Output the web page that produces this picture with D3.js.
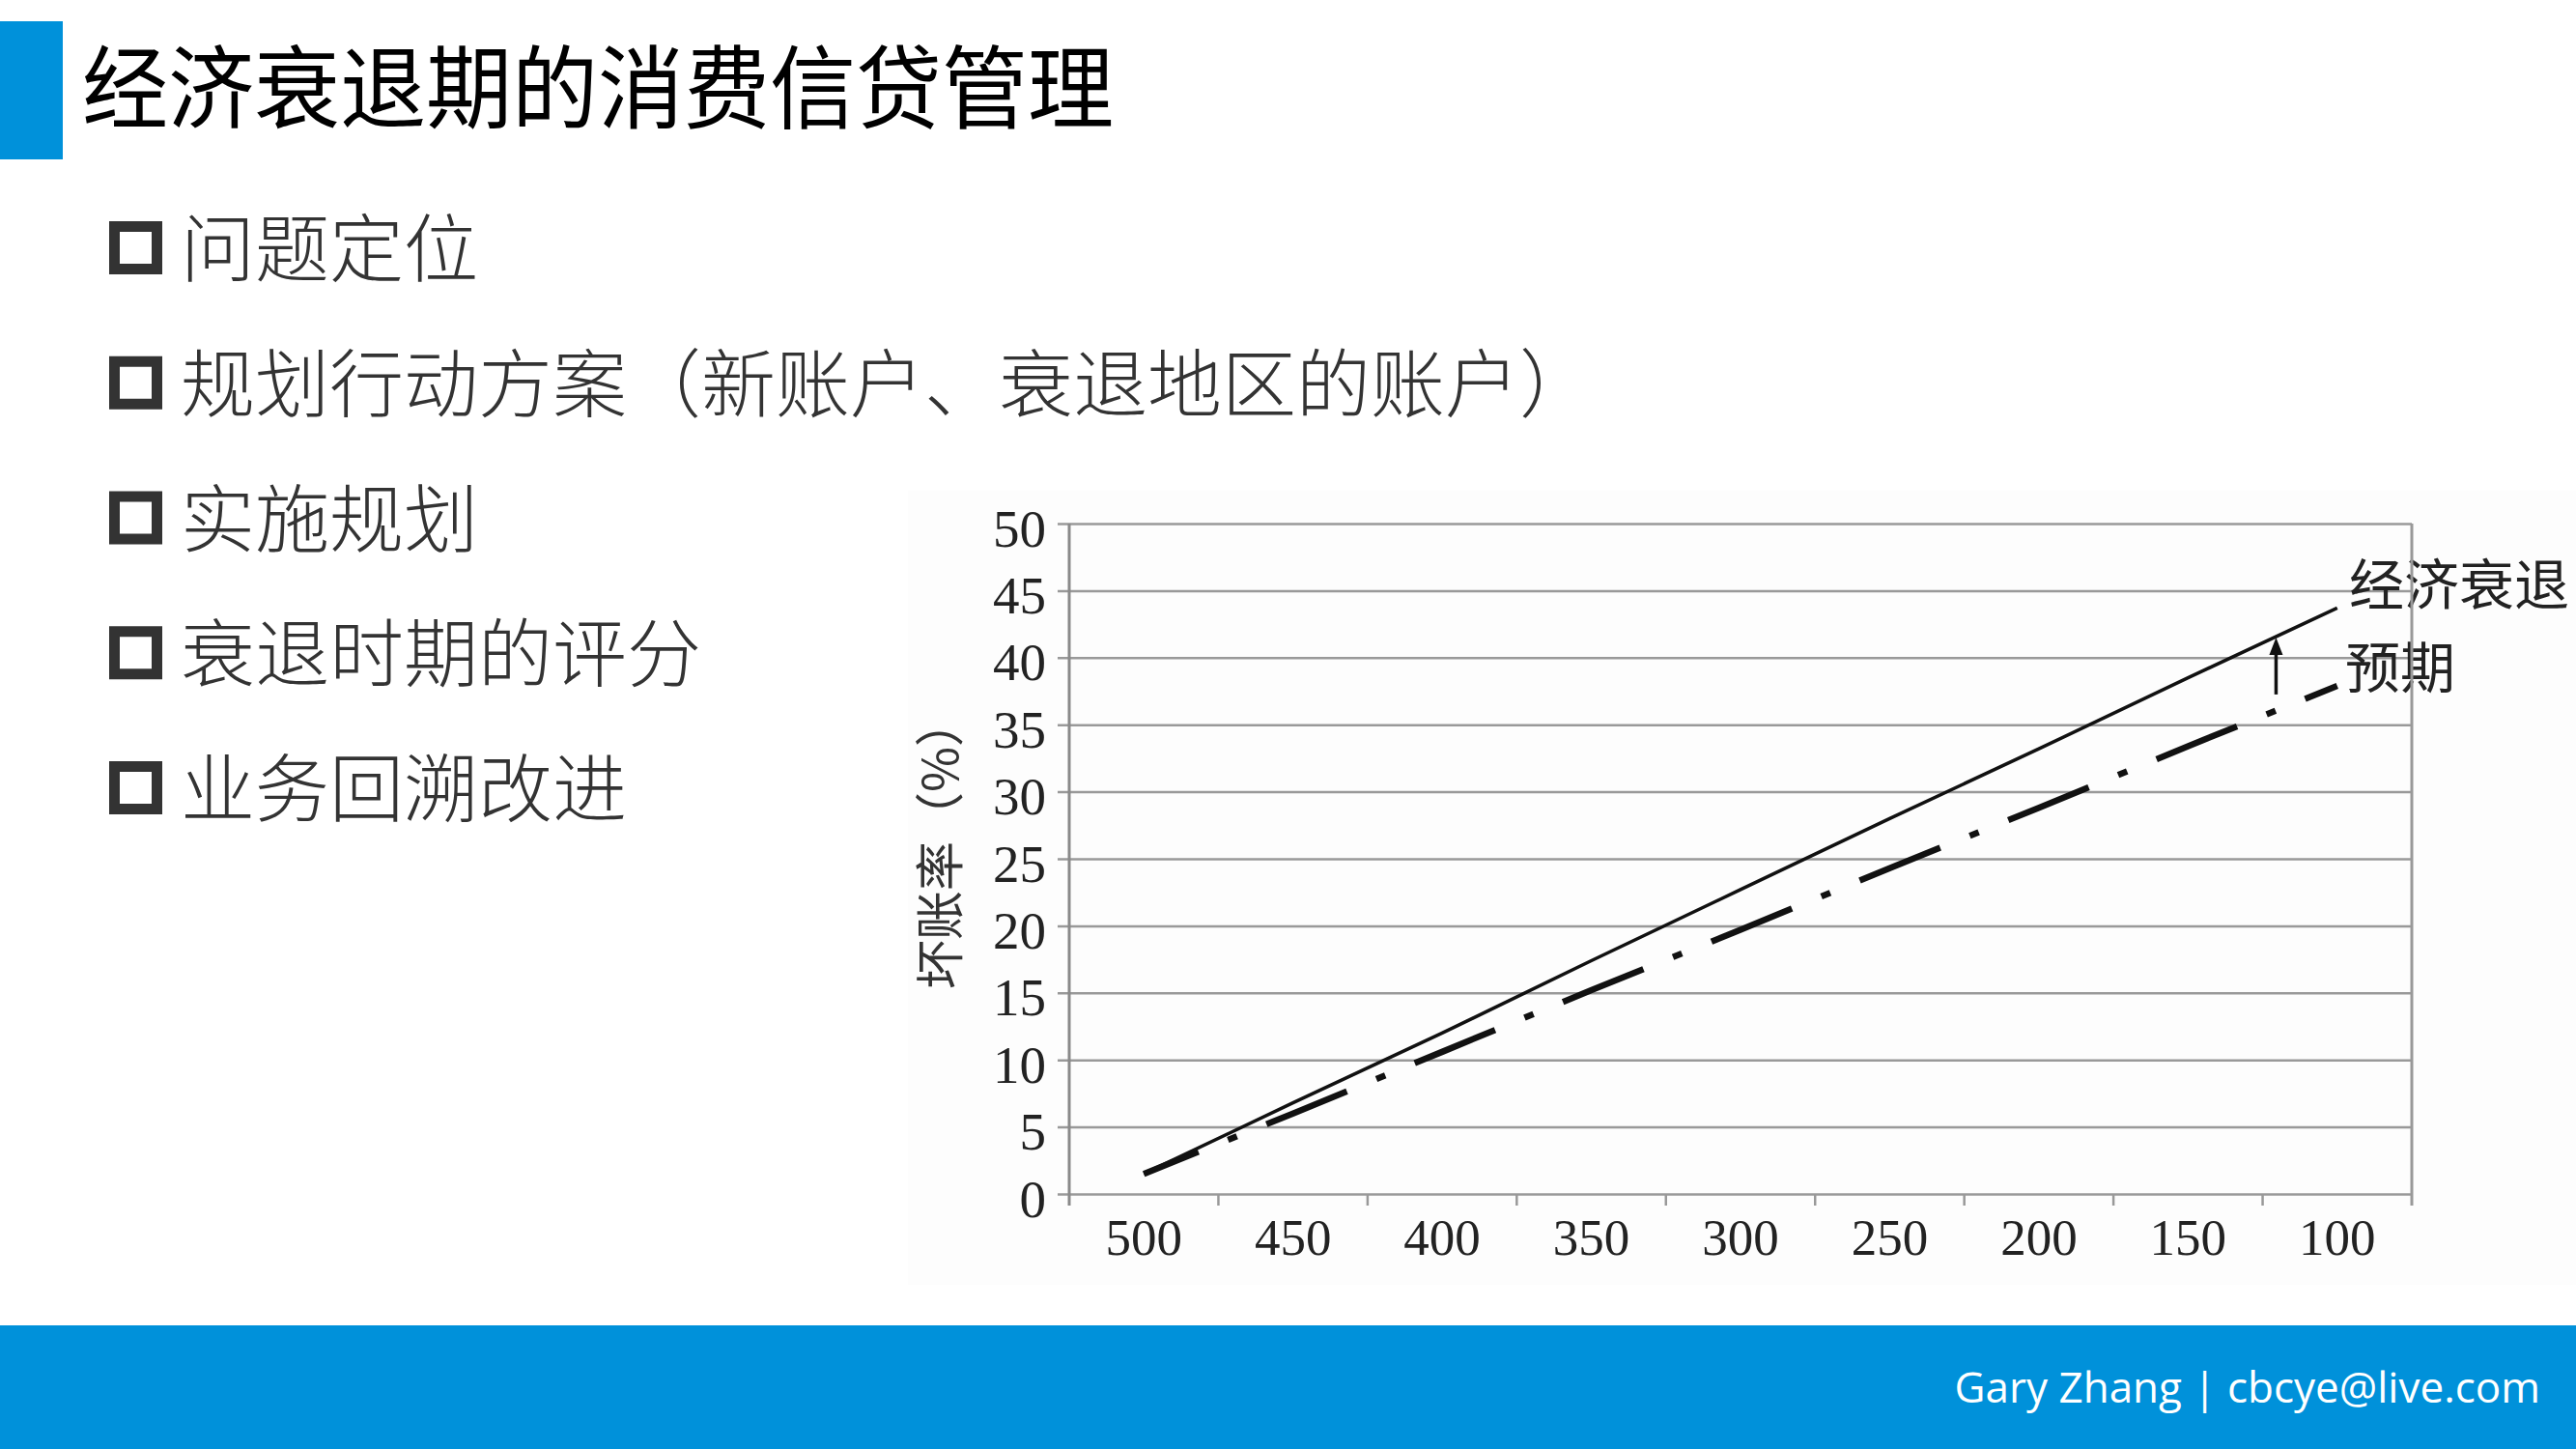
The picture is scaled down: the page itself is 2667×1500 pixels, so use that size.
<!DOCTYPE html>
<html>
<head>
<meta charset="utf-8">
<script src="https://cdn.jsdelivr.net/npm/d3@7"></script>
<style>
	html, body { margin: 0; padding: 0; background: #fff; }
	svg { display: block; }
</style>
</head>
<body>
<svg id="slide" width="2667" height="1500"></svg>
<script>
// chart values
var scoreLabels = ["500", "450", "400", "350", "300", "250", "200", "150", "100"];
var recessionRate = [1.5, 6.8, 12.0, 17.4, 22.7, 28.0, 33.2, 38.5, 43.7];
var expectedRate = [1.5, 6.0, 10.6, 15.2, 19.7, 24.3, 28.8, 33.4, 37.9];
var yTicks = [0, 5, 10, 15, 20, 25, 30, 35, 40, 45, 50];
var seriesNames = ["经济衰退", "预期"];
var bulletItems = ["问题定位", "规划行动方案（新账户、衰退地区的账户）", "实施规划", "衰退时期的评分", "业务回溯改进"];

(function (window, document) {
	var svg = d3.select("#slide");
	var blue = "#0091da";
	var cjk = "'Noto Sans CJK SC', 'Noto Sans', sans-serif";
	var serif = "'Liberation Serif', 'DejaVu Serif', serif";

	// header
	svg.append("rect").attr("x", 0).attr("y", 22).attr("width", 65).attr("height", 143).attr("fill", blue);
	svg.append("text")
		.attr("x", 85).attr("y", 126)
		.attr("textLength", 1068).attr("lengthAdjust", "spacingAndGlyphs")
		.style("font-family", cjk).style("font-size", "94px").attr("fill", "#000")
		.text("经济衰退期的消费信贷管理");

	// bullets
	var rowY = d3.scaleLinear().domain([0, 4]).range([257, 816]);
	var rows = svg.append("g").selectAll("g").data(bulletItems).enter().append("g")
		.attr("transform", function (d, i) { return "translate(0," + rowY(i) + ")"; });
	rows.append("rect")
		.attr("x", 118.5).attr("y", -22.5).attr("width", 44).attr("height", 44)
		.attr("fill", "none").attr("stroke", "#333").attr("stroke-width", 11);
	rows.append("text")
		.attr("x", 187).attr("y", 29)
		.style("font-family", cjk).style("font-size", "77px").style("font-weight", 300).attr("fill", "#333")
		.text(function (d) { return d; });

	// footer
	svg.append("rect").attr("x", 0).attr("y", 1372).attr("width", 2667).attr("height", 128).attr("fill", blue);
	svg.append("text")
		.attr("x", 2630).attr("y", 1452).attr("text-anchor", "end")
		.style("font-family", "'Open Sans', sans-serif").style("font-size", "44px").attr("fill", "#fff")
		.text("Gary Zhang | cbcye@live.com");

	// chart picture background
	svg.append("rect").attr("x", 940).attr("y", 508).attr("width", 1727).attr("height", 822).attr("fill", "#fdfdfd");

	var left = 1107, right = 2497, top = 542, bottom = 1236;
	var x = d3.scaleBand().domain(scoreLabels).range([left, right]).padding(0);
	var y = d3.scaleLinear().domain([0, 50]).range([bottom, top]);
	var cx = function (i) { return x(scoreLabels[i]) + x.bandwidth() / 2; };

	// gridlines
	var grid = svg.append("g")
		.attr("transform", "translate(" + (left - 12) + ",0)")
		.call(d3.axisLeft(y).tickValues(yTicks).tickSize(-(right - left + 12)).tickFormat(""));
	grid.select(".domain").remove();
	grid.selectAll("line").attr("stroke", "#999").attr("stroke-width", 2.5);

	// y labels
	var yAxis = svg.append("g")
		.attr("transform", "translate(" + left + ",0)")
		.call(d3.axisLeft(y).tickValues(yTicks).tickSize(0).tickPadding(24));
	yAxis.select(".domain").remove();
	yAxis.selectAll("text")
		.attr("dy", "0.42em")
		.style("font-family", serif).style("font-size", "55px").attr("fill", "#222");

	// x labels
	var xAxis = svg.append("g")
		.attr("transform", "translate(0," + bottom + ")")
		.call(d3.axisBottom(x).tickSize(0).tickPadding(25));
	xAxis.select(".domain").remove();
	xAxis.selectAll("text")
		.style("font-family", serif).style("font-size", "53px").attr("fill", "#222");

	// band boundary ticks
	svg.append("g").selectAll("line").data(scoreLabels.slice(1)).enter().append("line")
		.attr("x1", function (d) { return x(d); }).attr("x2", function (d) { return x(d); })
		.attr("y1", bottom).attr("y2", bottom + 12)
		.attr("stroke", "#999").attr("stroke-width", 2.5);

	// axis line
	svg.append("line")
		.attr("x1", left).attr("x2", left).attr("y1", top).attr("y2", bottom + 12)
		.attr("stroke", "#8a8a8a").attr("stroke-width", 3);

	// y title
	svg.append("text")
		.attr("transform", "translate(970,873) rotate(-90)")
		.attr("text-anchor", "middle").attr("dominant-baseline", "central")
		.style("font-family", cjk).style("font-size", "51px").attr("fill", "#333")
		.text("坏账率（%）");

	var line = d3.line()
		.x(function (d, i) { return cx(i); })
		.y(function (d) { return y(d); });

	svg.append("path").datum(expectedRate)
		.attr("d", line).attr("fill", "none")
		.attr("stroke", "#111").attr("stroke-width", 6.5)
		.attr("stroke-dasharray", "90 33 10 33")
		.attr("stroke-dashoffset", 29);

	svg.append("path").datum(recessionRate)
		.attr("d", line).attr("fill", "none")
		.attr("stroke", "#111").attr("stroke-width", 3.5);

	// arrow from expected up to recession
	var at = 0.59, k = scoreLabels.length - 2;
	var ax = cx(k) + at * x.bandwidth();
	var yLow = expectedRate[k] + at * (expectedRate[k + 1] - expectedRate[k]) + 1.2;
	var yHigh = recessionRate[k] + at * (recessionRate[k + 1] - recessionRate[k]);
	svg.append("line")
		.attr("x1", ax).attr("x2", ax).attr("y1", y(yLow)).attr("y2", y(yHigh) + 14)
		.attr("stroke", "#111").attr("stroke-width", 3.5);
	svg.append("path")
		.attr("d", "M" + ax + "," + (y(yHigh) + 1) + "l-7,18h14z")
		.attr("fill", "#111");

	// series labels
	svg.append("text").attr("x", 2432).attr("y", 626)
		.style("font-family", cjk).style("font-size", "57px").attr("fill", "#222")
		.text(seriesNames[0]);
	svg.append("text").attr("x", 2428).attr("y", 712)
		.style("font-family", cjk).style("font-size", "57px").attr("fill", "#222")
		.text(seriesNames[1]);

	// right border on top
	svg.append("line")
		.attr("x1", right).attr("x2", right).attr("y1", top).attr("y2", bottom + 12)
		.attr("stroke", "#999").attr("stroke-width", 3);
})(window, document);
</script>
</body>
</html>
